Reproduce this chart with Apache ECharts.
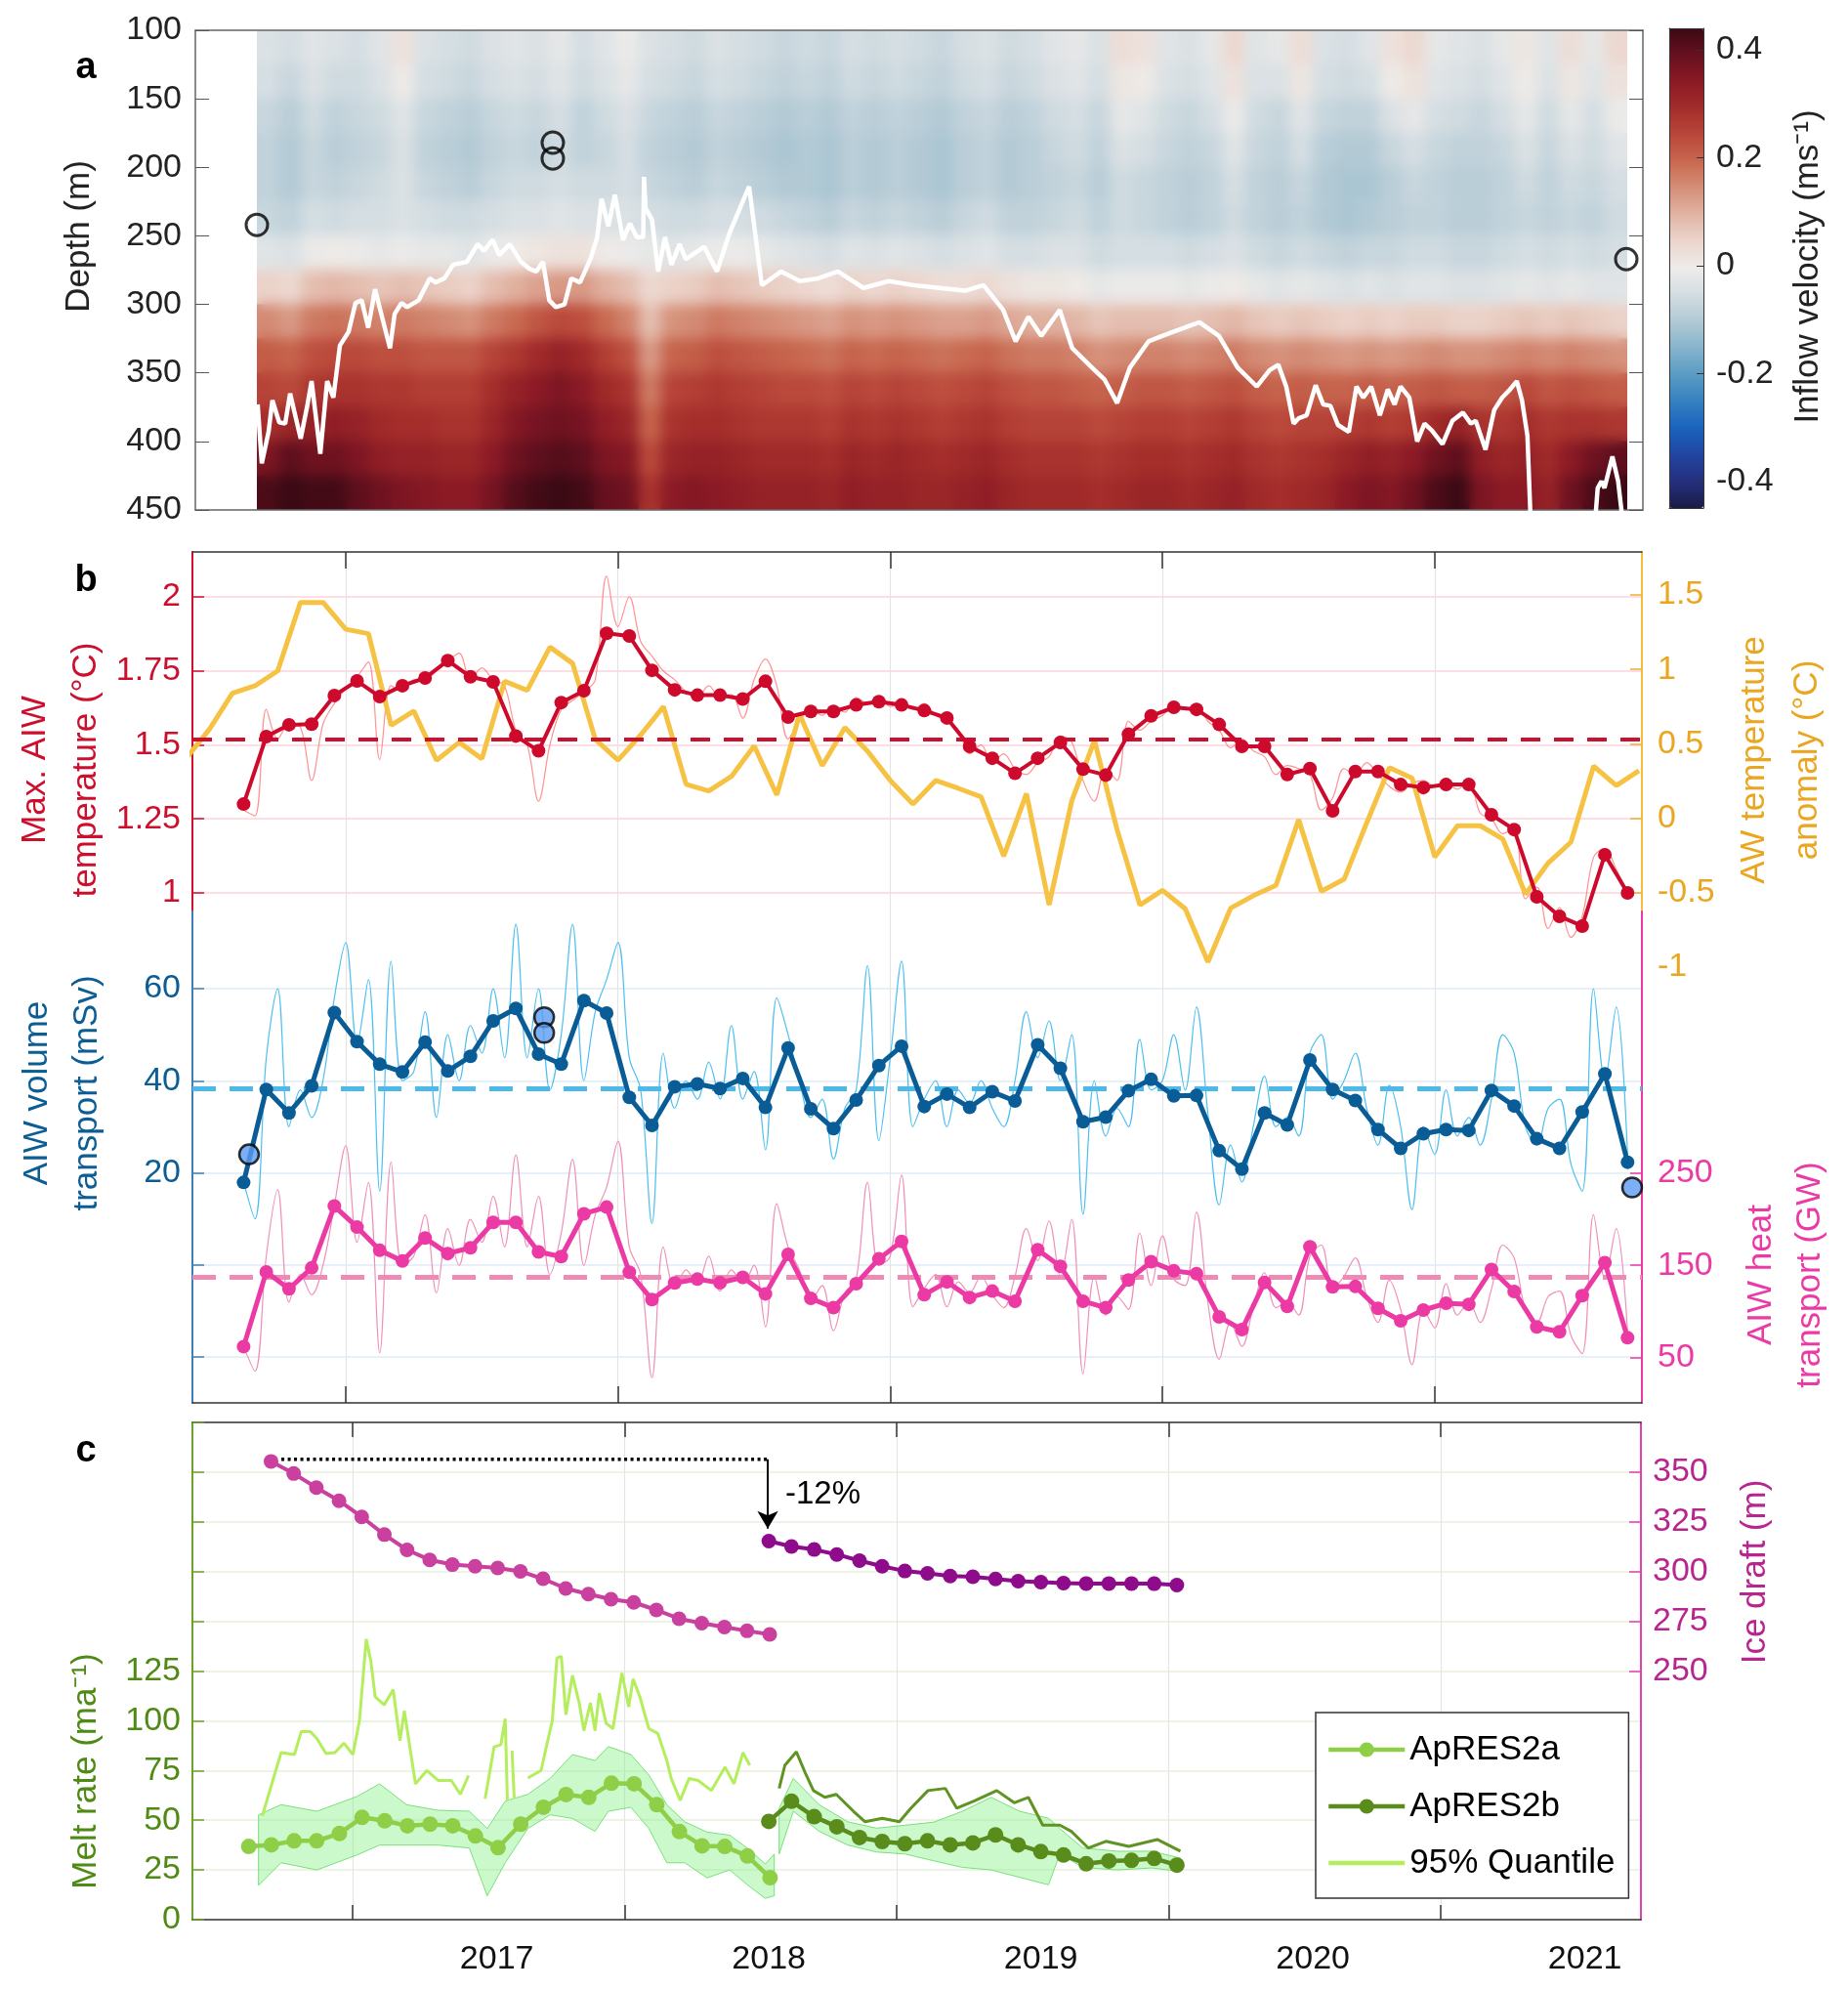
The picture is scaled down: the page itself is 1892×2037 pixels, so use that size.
<!DOCTYPE html>
<html>
<head>
<meta charset="utf-8">
<script src="https://cdn.jsdelivr.net/npm/echarts@6/dist/echarts.min.js"></script>
<style>
html, body { margin: 0; padding: 0; background: #fff; }
#page { position: relative; width: 1892px; height: 2037px; }
#main { position: absolute; left: 0; top: 0; width: 1892px; height: 2037px; }
.field { position: absolute; left: 263px; top: 31px; width: 1403px; height: 491px; }
#fieldClip { overflow: hidden; }
#fieldBlur { width: 1403px; height: 491px; filter: blur(7px); }
</style>
</head>
<body>
<div id="page">
  <div id="fieldSharp" class="field"></div>
  <div id="fieldClip" class="field"><div id="fieldBlur"></div></div>
  <div id="main"></div>
</div>
<script>
var chartDom = document.getElementById('main');
var myChart = echarts.init(chartDom);
var option;

var FONT = '"Liberation Sans", Arial, Helvetica, sans-serif';

// ---------- panel a : inflow velocity (cm/s), monthly columns Sep 2016 - Sep 2021, 25 m rows ----------
var vel100 = [-4,-5,-3,-4, -5,-3,2,-4, -5,-6,-4,-3, -4,-2,-5,-3, -1,-4,-5,-6, -4,-5,-6,-7, -6,-7,-5,-6, -5,-6,-7,-5, -4,-6,-5,-3, -2,-4,3,2, -3,-4,-2,4, -3,-2,3,-4, -5,-3,2,4, -2,-3,-4,-2, 1,-3,3,-2, 4];
var vel125 = [-5,-7,-4,-6, -6,-4,0,-5, -6,-7,-5,-4, -5,-3,-6,-4, -2,-5,-6,-7, -5,-6,-7,-8, -7,-8,-6,-7, -6,-7,-8,-6, -5,-7,-6,-4, -3,-5,1,0, -4,-5,-3,2, -4,-4,1,-5, -6,-5,0,2, -3,-4,-5,-3, 0,-4,1,-3, 2];
var vel150 = [-7,-9,-6,-8, -7,-6,-3,-7, -8,-9,-7,-6, -7,-5,-8,-6, -4,-7,-8,-9, -7,-8,-9,-10, -9,-10,-8,-9, -8,-9,-10,-8, -7,-9,-8,-6, -5,-7,-2,-3, -6,-7,-5,-1, -6,-7,-3,-7, -8,-8,-4,-2, -5,-6,-7,-5, -2,-6,-2,-5, -1];
var vel175 = [-8,-10,-7,-9, -8,-7,-4,-8, -9,-10,-8,-7, -8,-6,-8,-7, -5,-8,-9,-10, -8,-9,-10,-11, -10,-11,-9,-10, -9,-10,-11,-9, -8,-10,-9,-7, -6,-8,-4,-5, -7,-8,-7,-3, -7,-8,-5,-9, -10,-10,-7,-5, -7,-8,-8,-7, -4,-7,-4,-6, -3];
var vel200 = [-8,-10,-7,-8, -7,-6,-4,-7, -8,-9,-7,-6, -6,-5,-6,-6, -5,-7,-8,-9, -7,-8,-9,-10, -10,-11,-9,-10, -9,-10,-11,-9, -8,-10,-9,-8, -7,-9,-6,-7, -8,-9,-8,-5, -8,-9,-7,-10, -11,-11,-9,-7, -8,-9,-9,-8, -6,-8,-6,-7, -5];
var vel225 = [-7,-8,-5,-6, -5,-5,-4,-5, -6,-6,-5,-4, -4,-3,-4,-4, -4,-5,-6,-6, -5,-5,-6,-7, -8,-9,-7,-8, -7,-8,-9,-7, -6,-8,-8,-7, -6,-8,-6,-7, -8,-9,-8,-6, -8,-9,-8,-10, -11,-10,-9,-8, -8,-9,-9,-8, -7,-8,-7,-8, -6];
var vel250 = [-3,-4,-1,0, -1,-2,-1,-2, -2,-3,-1,0, 1,2,2,0, -1,-2,-3,-2, -1,-1,-2,-3, -4,-5,-3,-4, -3,-4,-5,-4, -3,-5,-5,-4, -4,-6,-5,-5, -5,-6,-5,-4, -6,-7,-6,-7, -8,-7,-7,-6, -6,-7,-7,-6, -5,-6,-5,-6, -5];
var vel275 = [5,4,8,9, 8,7,8,7, 6,5,8,10, 12,13,13,10, 8,4,5,6, 8,7,6,5, 4,3,5,4, 5,4,3,3, 4,2,1,1, 0,-2,-1,-1, -1,-2,-1,0, -2,-3,-2,-3, -4,-3,-4,-3, -3,-4,-4,-3, -2,-3,-2,-3, -3];
var vel300 = [15,13,17,18, 17,16,17,16, 15,14,17,19, 22,24,23,19, 16,8,14,15, 17,16,15,14, 13,12,14,13, 14,13,12,12, 13,11,10,10, 9,7,8,8, 8,7,8,9, 7,6,7,6, 5,6,5,6, 6,5,5,6, 7,6,7,6, 5];
var vel325 = [21,20,23,24, 24,23,23,22, 22,22,25,27, 30,32,30,26, 23,13,20,21, 23,22,21,20, 19,18,20,19, 20,19,18,19, 20,18,17,17, 16,14,15,16, 16,15,16,17, 15,14,15,14, 13,14,13,14, 15,14,14,15, 16,15,16,15, 14];
var vel350 = [25,24,27,28, 28,27,27,26, 26,26,29,32, 34,36,34,30, 28,17,25,26, 27,26,25,24, 24,23,25,24, 25,24,23,24, 25,23,22,22, 21,20,21,22, 22,21,22,23, 21,20,21,20, 20,21,20,21, 22,21,21,22, 24,22,23,22, 21];
var vel375 = [29,31,32,33, 32,30,29,29, 28,28,31,35, 37,38,37,33, 31,20,28,29, 29,28,27,27, 27,26,28,27, 28,27,26,27, 28,26,25,25, 25,24,25,26, 26,25,26,27, 25,24,25,25, 26,27,26,27, 30,32,28,27, 29,27,28,28, 27];
var vel400 = [36,40,38,38, 36,33,32,32, 31,31,34,38, 40,41,40,36, 35,24,31,32, 32,31,30,30, 30,29,31,30, 31,30,29,30, 31,29,28,28, 28,27,28,29, 29,28,29,30, 28,27,28,29, 31,33,32,34, 38,40,33,31, 32,30,34,38, 40];
var vel425 = [42,45,43,43, 40,38,36,35, 34,34,37,41, 43,44,43,39, 38,28,34,35, 34,33,32,32, 32,31,33,32, 32,31,31,32, 33,31,30,30, 30,29,30,31, 31,30,31,32, 30,29,30,31, 34,36,35,38, 42,44,36,34, 34,32,38,42, 44];
var velRows = [vel100, vel125, vel150, vel175, vel200, vel225, vel250, vel275, vel300, vel325, vel350, vel375, vel400, vel425];
var velDepths = ['100', '125', '150', '175', '200', '225', '250', '275', '300', '325', '350', '375', '400', '425'];

// upper boundary of the AIW layer (decimal year, depth m)
var aiwTop = [
  [2016.677,373],[2016.692,416],[2016.717,393],[2016.731,370],[2016.756,386],[2016.778,387],[2016.796,365],[2016.835,398],
  [2016.860,373],[2016.875,356],[2016.907,409],[2016.932,356],[2016.955,368],[2016.979,330],[2017.011,320],[2017.036,299],
  [2017.059,297],[2017.083,317],[2017.108,289],[2017.140,314],[2017.163,332],[2017.180,307],[2017.205,299],[2017.226,302],
  [2017.268,297],[2017.309,281],[2017.330,284],[2017.363,281],[2017.395,271],[2017.445,269],[2017.485,256],[2017.508,261],
  [2017.540,253],[2017.564,264],[2017.603,256],[2017.644,269],[2017.675,274],[2017.700,276],[2017.725,269],[2017.748,297],
  [2017.772,302],[2017.804,300],[2017.829,281],[2017.861,284],[2017.901,266],[2017.924,251],[2017.940,223],[2017.965,243],
  [2017.989,220],[2018.019,253],[2018.044,241],[2018.069,251],[2018.093,251],[2018.096,207],[2018.102,230],[2018.125,238],
  [2018.148,276],[2018.173,251],[2018.197,271],[2018.227,256],[2018.249,267],[2018.317,258],[2018.364,276],[2018.410,248],
  [2018.482,214],[2018.529,286],[2018.600,276],[2018.668,283],[2018.737,281],[2018.808,276],[2018.902,288],[2018.995,283],
  [2019.088,286],[2019.181,288],[2019.275,290],[2019.343,286],[2019.415,304],[2019.461,327],[2019.508,309],[2019.555,323],
  [2019.623,304],[2019.669,332],[2019.741,346],[2019.788,355],[2019.834,372],[2019.881,346],[2019.949,327],[2019.999,323],
  [2020.067,318],[2020.136,313],[2020.208,323],[2020.276,346],[2020.347,360],[2020.394,348],[2020.426,344],[2020.455,360],
  [2020.482,387],[2020.501,383],[2020.530,381],[2020.563,359],[2020.591,373],[2020.617,374],[2020.645,388],[2020.685,393],
  [2020.713,360],[2020.738,368],[2020.767,360],[2020.799,381],[2020.828,362],[2020.853,373],[2020.875,360],[2020.907,368],
  [2020.936,400],[2020.963,387],[2020.990,392],[2021.029,402],[2021.065,385],[2021.104,379],[2021.133,387],[2021.151,385],
  [2021.187,406],[2021.219,377],[2021.248,368],[2021.273,363],[2021.302,356],[2021.321,370],[2021.341,396],[2021.355,470],
  [2021.47,null],[2021.585,470],[2021.599,434],[2021.613,429],[2021.624,434],[2021.653,411],[2021.674,429],[2021.692,460]
];
var adcpMarks = [[2016.674,242],[2017.761,182],[2017.761,193.5],[2021.704,267]];

// ---------- panel b ----------
var meanStart = 2016.625;   // monthly means from mid Aug 2016
var rawStart = 2016.625;    // half-monthly record
var awStart = 2016.417;     // AW anomaly, monthly from Jun 2016
var maxTemp = [1.30,1.528,1.568,1.57,1.667,1.716,1.663,1.70,1.726,1.785,1.73,1.713,1.53,1.48,1.643,1.683,1.877,1.868,1.752,1.686,
  1.668,1.668,1.655,1.715,1.594,1.613,1.613,1.635,1.646,1.635,1.616,1.591,1.495,1.455,1.404,1.455,1.508,1.418,1.398,1.536,1.598,1.627,1.62,
  1.569,1.495,1.495,1.40,1.42,1.277,1.41,1.41,1.366,1.356,1.366,1.366,1.264,1.214,0.987,0.921,0.888,1.129,1.0];
var maxTempRaw = [1.28,1.26,1.62,1.52,1.57,1.56,1.38,1.57,1.64,1.69, 1.73,1.78,1.45,1.70,1.68,1.72,1.72,1.75,1.78,1.81,
  1.72,1.76,1.72,1.70,1.55,1.50,1.31,1.50,1.62,1.65, 1.68,1.72,2.07,1.90,2.00,1.85,1.80,1.75,1.72,1.68,
  1.66,1.70,1.66,1.67,1.59,1.72,1.79,1.70,1.52,1.58, 1.62,1.60,1.63,1.61,1.66,1.64,1.66,1.63,1.64,1.62,
  1.64,1.60,1.58,1.55,1.47,1.50,1.44,1.47,1.42,1.40, 1.44,1.46,1.53,1.51,1.38,1.31,1.42,1.38,1.58,1.55,
  1.58,1.60,1.63,1.62,1.64,1.58,1.55,1.49,1.52,1.48, 1.46,1.40,1.43,1.42,1.40,1.28,1.32,1.42,1.40,1.44,
  1.40,1.36,1.34,1.37,1.38,1.36,1.37,1.35,1.38,1.27, 1.25,1.20,1.22,0.98,1.02,0.88,0.95,0.85,0.92,1.12,
  1.15,1.08,1.00];
var maxTempMean = 1.517;
var awAnomaly = [0.41,0.60,0.84,0.89,0.99,1.45,1.45,
  1.27,1.24,0.625,0.72,0.39,0.51,0.40,0.92,0.86,1.15,1.04,0.53,
  0.39,0.56,0.75,0.228,0.184,0.282,0.486,0.157,0.698,0.354,0.61,0.45,
  0.254,0.096,0.254,0.201,0.144,-0.254,0.166,-0.582,0.118,0.523,-0.079,-0.582,
  -0.484,-0.608,-0.965,-0.604,-0.52,-0.45,-0.01,-0.49,-0.41,-0.03,0.34,0.27,
  -0.26,-0.05,-0.05,-0.14,-0.51,-0.30,-0.16,0.35,0.22,0.32];
var volTrans = [17.9,38.1,33.0,38.9,54.8,48.5,43.6,41.9,48.4,42.1,45.3,53.0,55.7,45.8,43.6,57.4,54.7,36.4,30.3,38.7,
  39.3,38.3,40.5,34.2,47.1,33.9,29.6,35.8,43.3,47.5,34.4,37.1,34.2,37.6,35.6,47.8,42.7,31.1,32.1,37.8,40.3,36.7,36.8,
  24.8,20.8,33.0,30.4,44.5,38.1,35.7,29.4,25.3,28.5,29.4,29.2,37.9,34.5,27.4,25.3,33.2,41.5,22.3];
var volTransRaw = [18,10,45,60,30,38,32,40,58,70, 48,62,16,66,40,42,55,32,50,40, 52,46,60,45,74,45,60,38,50,74,
  40,55,62,70,45,38,9,46,34,40, 36,44,36,52,36,42,25,58,50,40, 32,36,23,34,38,65,27,45,66,30,
  36,40,30,38,35,40,34,30,40,55, 45,53,40,50,11,40,28,34,30,49, 38,40,50,38,56,33,13,26,18,30,
  41,30,32,28,46,50,36,40,46,34, 26,39,30,12,30,24,38,28,32,26, 36,50,46,30,26,34,36,22,16,60, 40,56,24];
var volTransMean = 38.3;
var volMoorings = [[2016.645,24.0],[2017.729,53.8],[2017.729,50.4],[2021.725,16.8]];
var heatTrans = [61.7,142.9,124.5,147.2,214.4,191.5,166.3,154.6,179.6,162.8,169.1,196.6,196.6,164.6,159.5,206,213.3,142.5,112.7,130.9,
  135,131,137,119,162,114,104,130,157,176,118,132,115,122,111,167,149,111,104,134,154,144,141,
  94,80.1,131.5,105.3,170.2,126.6,127,103.2,89.7,101.4,108.7,107.6,145.4,121.6,83,77.7,117,152.8,71.3];
var heatTransRaw = [62,35,160,232,110,140,118,150,215,280, 175,240,55,262,150,160,205,120,190,150, 200,175,225,170,270,170,225,140,185,265,
  150,205,235,285,170,140,28,170,125,145, 130,160,122,145,130,150,83,217,170,145, 112,128,79,120,135,240,150,160,248,105,
  125,140,105,132,120,138,118,104,138,190, 155,198,138,200,32,138,96,116,102,185, 128,182,135,128,208,110,48,88,62,104,
  142,104,110,96,160,172,124,138,158,116, 88,134,102,42,102,82,130,96,110,88, 124,172,158,102,88,116,122,74,54,205, 136,190,78];
var heatTransMean = 137;

// ---------- panel c ----------
var melt2aStart = 2016.618, draft2aStart = 2016.70, res2bStart = 2018.53;
var melt2a = [36.8,37.6,39.6,39.6,43.3,51.4,49.7,47.2,48.0,47.2,42.1,36.2,48.0,56.5,62.9,61.5,68.6,68.3,57.8,44.3,37.1,36.8,32.0,21.1];
var draft2a = [355.4,349.3,342.2,335.6,327.5,318.6,310.9,305.9,303.5,302.7,301.8,300.1,296.4,291.5,288.7,286.1,284.5,280.7,276.3,274.1,272.1,270.2,268.4];
var melt2b = [49.4,59.5,51.8,46.7,41.3,39.3,38.2,39.6,37.6,38.6,42.6,37.6,34.2,32.5,28.1,29.5,29.8,30.8,27.4];
var draft2b = [315.3,312.6,311.1,308.6,305.5,302.7,300.3,299.1,297.8,297.4,296.3,295.2,294.7,294.2,294.0,294.0,294.0,293.9,293.2];
// [time, upper, lower] of the melt-rate uncertainty band
var band2a = [[2016.654,52.7,17.2],[2016.737,57.8,28.6],[2016.869,54.5,25],[2017.017,62,32.6],[2017.099,68.3,37.5],[2017.198,57.8,37.5],
  [2017.314,55,37.5],[2017.429,54.5,36],[2017.495,45.8,12],[2017.561,59.6,28.6],[2017.644,63,45.8],[2017.726,71,52.7],[2017.808,83,50.9],
  [2017.891,80,44.4],[2017.940,87,54.5],[2018.023,83,56.5],[2018.089,72.7,45.8],[2018.155,57.8,28.6],[2018.221,49.2,28.6],[2018.303,44,21],
  [2018.386,42.5,25],[2018.451,36,17.5],[2018.517,28,10.7],[2018.550,33,12]];
var band2b = [[2018.568,56,33],[2018.620,71,54.5],[2018.715,57.8,44.4],[2018.820,49.2,37.5],[2018.926,46,34],[2019.031,47.5,33],
  [2019.136,49,29.6],[2019.242,54.5,26.3],[2019.347,61.5,25],[2019.452,54.5,21.3],[2019.558,51,17.5],[2019.600,45.8,33],
  [2019.684,36,26.3],[2019.811,34.4,25],[2019.937,34.4,26],[2020.043,31,24.2]];
var q95a = [[2016.668,52.2],[2016.737,84],[2016.786,83],[2016.811,94.6],[2016.844,94.6],[2016.869,91],[2016.902,83.5],[2016.935,84],
  [2016.968,88.7],[2017.001,83],[2017.025,100],[2017.050,141],[2017.067,130],[2017.083,112],[2017.116,108],[2017.149,115.6],
  [2017.174,90],[2017.190,105],[2017.231,68.3],[2017.273,75],[2017.314,70],[2017.363,70],[2017.396,63],[2017.426,72.5],[2017.45,null],
  [2017.487,60.8],[2017.520,86.9],[2017.545,88],[2017.561,101],[2017.569,60],[2017.577,null],[2017.586,85],[2017.594,61],[2017.62,null],
  [2017.644,71.2],[2017.693,75],[2017.709,85],[2017.734,100],[2017.751,131.6],[2017.767,132.4],[2017.784,103],[2017.808,122.8],
  [2017.833,109],[2017.850,95],[2017.874,109],[2017.891,95],[2017.907,113.9],[2017.932,98.7],[2017.957,96],[2017.990,124],
  [2018.015,107],[2018.031,121],[2018.056,112],[2018.089,96],[2018.122,93.6],[2018.155,80],[2018.171,71],[2018.204,60],
  [2018.237,71],[2018.270,70],[2018.319,64.9],[2018.369,76.7],[2018.402,68.3],[2018.435,84],[2018.460,77.6]];
var q95b = [[2018.568,66],[2018.589,77.6],[2018.631,84.4],[2018.662,74.4],[2018.694,64.9],[2018.736,61.5],[2018.778,63],[2018.841,54.5],
  [2018.884,49.2],[2018.947,51],[2019.010,49.2],[2019.052,56],[2019.115,64.9],[2019.179,66],[2019.221,56],[2019.284,59.6],
  [2019.368,64.9],[2019.432,58.8],[2019.484,61.5],[2019.537,47.5],[2019.600,47.5],[2019.642,44.4],[2019.705,36],[2019.769,39.4],
  [2019.853,36.8],[2019.958,40.3],[2020.043,34.4]];
var draftDrop = { t0: 2016.738, t1: 2018.526, level: 356.4, arrowTo: 321.6 };

var yearTicks = [2017, 2018, 2019, 2020, 2021];
var yearLabels = [2017.53, 2018.53, 2019.53, 2020.53, 2021.53];
var velColors = ['#1a1c45','#252f7e','#2145a0','#1a63bd','#3580c0','#5b9bc4','#86b3cc','#b1c9d4','#d3dde2','#eeecea',
  '#ecd6cd','#e1b4a4','#d58f79','#c8684f','#b9473a','#a42d2a','#8a1a25','#67101f','#3a0a14'];

// ---------- helpers ----------
function series(start, step, vals) {
  return vals.map(function (v, i) { return [start + i * step, v]; });
}
var velMonths = [];
for (var m = 0; m < vel100.length; m++) velMonths.push('M' + m);
var heatData = [];
velRows.forEach(function (row, yi) {
  row.forEach(function (v, xi) { heatData.push([xi, yi, v / 100]); });
});

function lineOnly(color, width) {
  return { show: true, onZero: false, lineStyle: { color: color, width: width } };
}
function bandSeries(rows, xi, yi) {
  return {
    type: 'custom', xAxisIndex: xi, yAxisIndex: yi, z: 1, silent: true, clip: true,
    data: [[rows[0][0], rows[0][1]]],
    renderItem: function (params, api) {
      var pts = [];
      for (var i = 0; i < rows.length; i++) pts.push(api.coord([rows[i][0], rows[i][1]]));
      for (var j = rows.length - 1; j >= 0; j--) pts.push(api.coord([rows[j][0], rows[j][2]]));
      return { type: 'polygon', shape: { points: pts },
        style: { fill: 'rgba(120,238,120,0.38)', stroke: '#78e078', lineWidth: 1 } };
    }
  };
}
function vText(text, x, y, color, lh) {
  return { type: 'text', x: x, y: y, rotation: Math.PI / 2, z: 100,
    style: { text: text, fill: color, font: '35px ' + FONT, align: 'center', verticalAlign: 'middle', lineHeight: lh || 52 } };
}
function hText(text, x, y, font, align) {
  return { type: 'text', x: x, y: y, z: 100,
    style: { text: text, fill: '#000', font: font, align: align || 'center', verticalAlign: 'middle' } };
}
function lab(vals, color, margin) {
  return { show: true, customValues: vals, color: color, fontFamily: FONT, fontSize: 34, margin: margin };
}

// the velocity field is drawn twice underneath the main chart: once sharp, once softened
function fieldOption() {
  return {
    animation: false,
    grid: { left: 0, right: 0, top: 0, bottom: 0 },
    xAxis: { type: 'category', data: velMonths, show: false },
    yAxis: { type: 'category', data: velDepths, inverse: true, show: false },
    visualMap: { show: false, type: 'continuous', dimension: 2, min: -0.449, max: 0.44, inRange: { color: velColors } },
    series: [{ type: 'heatmap', data: heatData, silent: true }]
  };
}
echarts.init(document.getElementById('fieldSharp')).setOption(fieldOption());
echarts.init(document.getElementById('fieldBlur')).setOption(fieldOption());

option = {
  animation: false,
  textStyle: { fontFamily: FONT },
  grid: [
    { left: 200, width: 1482, top: 31, height: 491 },            // 0 panel a
    { left: 263, width: 1403, top: 31, height: 491 },            // 1 panel a field
    { left: 1709, width: 35, top: 29, height: 491 },             // 2 colorbar
    { left: 197, width: 1484, top: 565, height: 871 },           // 3 panel b
    { left: 197, width: 1484, top: 565, height: 368 },           // 4 panel b temperature spine
    { left: 197, width: 1484, top: 933, height: 503 },           // 5 panel b transport spine
    { left: 197, width: 1483, top: 1456, height: 509 }           // 6 panel c
  ],
  visualMap: {
    type: 'continuous', seriesIndex: 0, dimension: 2, min: -0.449, max: 0.44,
    left: 1709, top: 29, itemWidth: 35, itemHeight: 491, padding: 0,
    calculable: false, hoverLink: false, inRange: { color: velColors }
  },
  xAxis: [
    { gridIndex: 0, type: 'value', min: 2016.448, max: 2021.765, position: 'bottom', axisLine: lineOnly('#666', 1.5),
      axisTick: { show: false }, axisLabel: { show: false }, splitLine: { show: false } },
    { gridIndex: 0, type: 'value', min: 2016.448, max: 2021.765, position: 'top', axisLine: lineOnly('#666', 1.5),
      axisTick: { show: false }, axisLabel: { show: false }, splitLine: { show: false } },
    { gridIndex: 1, type: 'category', data: velMonths, show: false },
    { gridIndex: 2, type: 'value', min: 0, max: 1, position: 'bottom', z: 10, axisLine: lineOnly('#333', 1),
      axisTick: { show: false }, axisLabel: { show: false }, splitLine: { show: false } },
    { gridIndex: 2, type: 'value', min: 0, max: 1, position: 'top', z: 10, axisLine: lineOnly('#333', 1),
      axisTick: { show: false }, axisLabel: { show: false }, splitLine: { show: false } },
    { gridIndex: 3, type: 'value', min: 2016.437, max: 2021.761, position: 'bottom', axisLine: lineOnly('#333', 1.5),
      axisTick: { show: true, inside: true, length: 17, customValues: yearTicks, lineStyle: { color: '#333', width: 1.5 } },
      axisLabel: { show: false }, splitLine: { show: true, lineStyle: { color: '#e4e4e4', width: 1.2 } } },
    { gridIndex: 3, type: 'value', min: 2016.437, max: 2021.761, position: 'top', axisLine: lineOnly('#333', 1.5),
      axisTick: { show: true, inside: true, length: 17, customValues: yearTicks, lineStyle: { color: '#333', width: 1.5 } },
      axisLabel: { show: false }, splitLine: { show: false } },
    { gridIndex: 4, type: 'value', min: 0, max: 1, show: false },
    { gridIndex: 5, type: 'value', min: 0, max: 1, show: false },
    { gridIndex: 6, type: 'value', min: 2016.411, max: 2021.736, position: 'bottom', axisLine: lineOnly('#333', 1.5),
      axisTick: { show: true, inside: true, length: 15, customValues: yearTicks, lineStyle: { color: '#333', width: 1.5 } },
      axisLabel: { show: true, customValues: yearLabels, color: '#111', fontFamily: FONT, fontSize: 34, margin: 24,
        formatter: function (v) { return String(Math.floor(v)); } },
      splitLine: { show: true, lineStyle: { color: '#e4e4e4', width: 1.2 } } },
    { gridIndex: 6, type: 'value', min: 2016.411, max: 2021.736, position: 'top', axisLine: lineOnly('#333', 1.5),
      axisTick: { show: true, inside: true, length: 15, customValues: yearTicks, lineStyle: { color: '#333', width: 1.5 } },
      axisLabel: { show: false }, splitLine: { show: false } }
  ],
  yAxis: [
    { gridIndex: 0, type: 'value', min: 100, max: 450, interval: 50, inverse: true, position: 'left',
      axisLine: lineOnly('#666', 1.5), axisTick: { inside: true, length: 14, lineStyle: { color: '#555' } },
      axisLabel: { color: '#222', fontFamily: FONT, fontSize: 34, margin: 14 }, splitLine: { show: false } },
    { gridIndex: 0, type: 'value', min: 100, max: 450, interval: 50, inverse: true, position: 'right',
      axisLine: lineOnly('#666', 1.5), axisTick: { inside: true, length: 14, lineStyle: { color: '#555' } },
      axisLabel: { show: false }, splitLine: { show: false } },
    { gridIndex: 1, type: 'category', data: velDepths, inverse: true, show: false },
    { gridIndex: 2, type: 'value', min: -0.449, max: 0.44, position: 'right', z: 10, axisLine: lineOnly('#333', 1),
      axisTick: { show: true, inside: true, length: 7, customValues: [-0.4, -0.2, 0, 0.2, 0.4], lineStyle: { color: '#333' } },
      axisLabel: lab([-0.4, -0.2, 0, 0.2, 0.4], '#222', 13), splitLine: { show: false } },
    { gridIndex: 2, type: 'value', min: -0.449, max: 0.44, position: 'left', z: 10, axisLine: lineOnly('#333', 1),
      axisTick: { show: false }, axisLabel: { show: false }, splitLine: { show: false } },
    // 5 max AIW temperature
    { gridIndex: 3, type: 'value', min: -0.7228, max: 2.1518, position: 'left', axisLine: { show: false },
      axisTick: { show: true, inside: true, length: 12, customValues: [1, 1.25, 1.5, 1.75, 2], lineStyle: { color: '#d0102e', width: 1.5 } },
      axisLabel: lab([1, 1.25, 1.5, 1.75, 2], '#cc0f2d', 12),
      splitLine: { show: true, lineStyle: { color: '#fbd3da', width: 1.5 } } },
    // 6 AW anomaly
    { gridIndex: 3, type: 'value', min: -3.927, max: 1.789, position: 'right', axisLine: { show: false },
      axisTick: { show: true, inside: true, length: 12, customValues: [-0.5, 0, 0.5, 1, 1.5], lineStyle: { color: '#eeb030', width: 1.5 } },
      axisLabel: lab([-1, -0.5, 0, 0.5, 1, 1.5], '#eaa620', 16), splitLine: { show: false } },
    // 7 volume transport
    { gridIndex: 3, type: 'value', min: -30.0, max: 154.9, position: 'left', axisLine: { show: false },
      axisTick: { show: true, inside: true, length: 12, customValues: [-20, 0, 20, 40, 60], lineStyle: { color: '#3d80b8', width: 1.5 } },
      axisLabel: lab([20, 40, 60], '#0b5d94', 12),
      splitLine: { show: true, lineStyle: { color: '#e0ebf5', width: 1.5 } } },
    // 8 heat transport
    { gridIndex: 3, type: 'value', min: 0.53, max: 925.2, position: 'right', axisLine: { show: false },
      axisTick: { show: true, inside: true, length: 12, customValues: [50, 150, 250], lineStyle: { color: '#ec3aa5', width: 1.5 } },
      axisLabel: lab([50, 150, 250], '#ec3aa5', 16), splitLine: { show: false } },
    { gridIndex: 4, type: 'value', min: 0, max: 1, position: 'left', axisLine: lineOnly('#d0102e', 2),
      axisTick: { show: false }, axisLabel: { show: false }, splitLine: { show: false } },
    { gridIndex: 4, type: 'value', min: 0, max: 1, position: 'right', axisLine: lineOnly('#f2bc3c', 2),
      axisTick: { show: false }, axisLabel: { show: false }, splitLine: { show: false } },
    { gridIndex: 5, type: 'value', min: 0, max: 1, position: 'left', axisLine: lineOnly('#3d80b8', 2),
      axisTick: { show: false }, axisLabel: { show: false }, splitLine: { show: false } },
    { gridIndex: 5, type: 'value', min: 0, max: 1, position: 'right', axisLine: lineOnly('#ec3aa5', 2),
      axisTick: { show: false }, axisLabel: { show: false }, splitLine: { show: false } },
    // 13 melt rate
    { gridIndex: 6, type: 'value', min: 0, max: 250, interval: 25, position: 'left', axisLine: lineOnly('#6aa32a', 2),
      axisTick: { show: true, inside: true, length: 12, lineStyle: { color: '#6aa32a', width: 1.5 } },
      axisLabel: lab([0, 25, 50, 75, 100, 125], '#4f8a14', 12),
      splitLine: { show: true, lineStyle: { color: '#e7efdc', width: 1.5 } } },
    // 14 ice draft
    { gridIndex: 6, type: 'value', min: 125, max: 375, interval: 25, position: 'right', axisLine: lineOnly('#e040b0', 2),
      axisTick: { show: true, inside: true, length: 12, customValues: [250, 275, 300, 325, 350], lineStyle: { color: '#e040b0', width: 1.5 } },
      axisLabel: lab([250, 275, 300, 325, 350], '#b8258f', 12), splitLine: { show: false } }
  ],
  legend: {
    data: ['ApRES2a', 'ApRES2b', { name: '95% Quantile', itemStyle: { opacity: 0 } }],
    orient: 'vertical', left: 1347, top: 1753, selectedMode: false,
    padding: [18, 14, 16, 11], itemGap: 18, itemWidth: 78, itemHeight: 19,
    lineStyle: { width: 4.5 },
    backgroundColor: '#fff', borderColor: '#333', borderWidth: 1.5, borderRadius: 0,
    textStyle: { color: '#000', fontFamily: FONT, fontSize: 35, lineHeight: 40 }
  },
  series: [
    // ----- panel a (field kept invisible here; it only drives the colour bar) -----
    { type: 'heatmap', xAxisIndex: 2, yAxisIndex: 2, data: heatData, silent: true, z: 1, itemStyle: { opacity: 0 } },
    { type: 'line', xAxisIndex: 0, yAxisIndex: 0, data: aiwTop, symbol: 'none', z: 3,
      lineStyle: { color: '#fff', width: 4.5 } },
    { type: 'scatter', xAxisIndex: 0, yAxisIndex: 0, data: adcpMarks, symbolSize: 22, z: 4,
      itemStyle: { color: 'rgba(255,255,255,0)', borderColor: '#000', borderWidth: 3 } },
    // ----- panel b -----
    { type: 'line', xAxisIndex: 5, yAxisIndex: 5, data: series(rawStart, 1 / 24, maxTempRaw), symbol: 'none', z: 2, smooth: 0.35,
      lineStyle: { color: 'rgba(255,110,110,0.75)', width: 1.2 } },
    { type: 'line', xAxisIndex: 5, yAxisIndex: 6, data: series(awStart, 1 / 12, awAnomaly), symbol: 'none', z: 3,
      lineStyle: { color: '#f6c243', width: 5 } },
    { type: 'line', xAxisIndex: 5, yAxisIndex: 5, data: series(meanStart, 1 / 12, maxTemp), z: 5,
      symbol: 'circle', symbolSize: 14, itemStyle: { color: '#cd0a2c' }, lineStyle: { color: '#cd0a2c', width: 4 },
      markLine: { silent: true, symbol: 'none', label: { show: false }, data: [{ yAxis: maxTempMean }],
        lineStyle: { color: '#cc1030', width: 4, type: [20, 14] } } },
    { type: 'line', xAxisIndex: 5, yAxisIndex: 7, data: series(rawStart, 1 / 24, volTransRaw), symbol: 'none', z: 2, smooth: 0.35,
      lineStyle: { color: '#4cbff0', width: 1.2 } },
    { type: 'line', xAxisIndex: 5, yAxisIndex: 7, data: series(meanStart, 1 / 12, volTrans), z: 5,
      symbol: 'circle', symbolSize: 14, itemStyle: { color: '#0a5c96' }, lineStyle: { color: '#0a5c96', width: 5 },
      markLine: { silent: true, symbol: 'none', label: { show: false }, data: [{ yAxis: volTransMean }],
        lineStyle: { color: '#4cb9ea', width: 5, type: [24, 14] } } },
    { type: 'scatter', xAxisIndex: 5, yAxisIndex: 7, data: volMoorings, symbolSize: 20, z: 6,
      itemStyle: { color: '#5b9bf0', borderColor: '#000', borderWidth: 2.5 } },
    { type: 'line', xAxisIndex: 5, yAxisIndex: 8, data: series(rawStart, 1 / 24, heatTransRaw), symbol: 'none', z: 2, smooth: 0.35,
      lineStyle: { color: '#f090ba', width: 1.2 } },
    { type: 'line', xAxisIndex: 5, yAxisIndex: 8, data: series(meanStart, 1 / 12, heatTrans), z: 5,
      symbol: 'circle', symbolSize: 14, itemStyle: { color: '#ec3aa5' }, lineStyle: { color: '#ec3aa5', width: 5 },
      markLine: { silent: true, symbol: 'none', label: { show: false }, data: [{ yAxis: heatTransMean }],
        lineStyle: { color: '#ee8ab5', width: 5, type: [24, 14] } } },
    // ----- panel c -----
    bandSeries(band2a, 9, 13),
    bandSeries(band2b, 9, 13),
    { name: '95% Quantile', type: 'line', xAxisIndex: 9, yAxisIndex: 13, data: q95a, symbol: 'none', z: 3,
      lineStyle: { color: '#b4ee5c', width: 3 }, itemStyle: { color: '#b4ee5c' } },
    { name: 'q95b', type: 'line', xAxisIndex: 9, yAxisIndex: 13, data: q95b, symbol: 'none', z: 3,
      lineStyle: { color: '#5f9422', width: 3 } },
    { name: 'ApRES2a', type: 'line', xAxisIndex: 9, yAxisIndex: 13, data: series(melt2aStart, 1 / 12, melt2a), z: 5,
      symbol: 'circle', symbolSize: 16, itemStyle: { color: '#8fcf48' }, lineStyle: { color: '#8fcf48', width: 4.5 } },
    { name: 'ApRES2b', type: 'line', xAxisIndex: 9, yAxisIndex: 13, data: series(res2bStart, 1 / 12, melt2b), z: 5,
      symbol: 'circle', symbolSize: 16, itemStyle: { color: '#5a8c1c' }, lineStyle: { color: '#5a8c1c', width: 4.5 } },
    { type: 'line', xAxisIndex: 9, yAxisIndex: 14, data: series(draft2aStart, 1 / 12, draft2a), z: 5,
      symbol: 'circle', symbolSize: 15, itemStyle: { color: '#c9409f' }, lineStyle: { color: '#c9409f', width: 4 } },
    { type: 'line', xAxisIndex: 9, yAxisIndex: 14, data: series(res2bStart, 1 / 12, draft2b), z: 5,
      symbol: 'circle', symbolSize: 15, itemStyle: { color: '#8e0b8c' }, lineStyle: { color: '#8e0b8c', width: 4 } },
    { type: 'line', xAxisIndex: 9, yAxisIndex: 14, z: 4, symbol: 'none',
      data: [[draftDrop.t0, draftDrop.level], [draftDrop.t1, draftDrop.level]],
      lineStyle: { color: '#000', width: 3.5, type: [3, 3.5] },
      markLine: { silent: true, symbol: ['none', 'arrow'], symbolSize: [16, 18], label: { show: false },
        lineStyle: { color: '#000', width: 2, type: 'solid' },
        data: [[{ coord: [draftDrop.t1, draftDrop.level] }, { coord: [draftDrop.t1, draftDrop.arrowTo] }]] } }
  ],
  graphic: [
    hText('a', 88, 70, 'bold 38px ' + FONT),
    hText('b', 88, 595, 'bold 38px ' + FONT),
    hText('c', 88, 1486, 'bold 38px ' + FONT),
    hText('-12%', 804, 1530, '33px ' + FONT, 'left'),
    vText('Depth (m)', 81, 242, '#222'),
    vText('Inflow velocity (ms\u207B\u00B9)', 1851, 273, '#222'),
    vText('Max. AIW\ntemperature (\u00B0C)', 62, 788, '#cc0f2d', 52),
    vText('AIW volume\ntransport (mSv)', 64, 1119, '#0b5d94', 51),
    vText('AW temperature\nanomaly (\u00B0C)', 1823, 778, '#eaa620', 54),
    vText('AIW heat\ntransport (GW)', 1828, 1305, '#ec3aa5', 50),
    vText('Melt rate (ma\u207B\u00B9)', 88, 1813, '#4f8a14'),
    vText('Ice draft (m)', 1797, 1609, '#b8258f')
  ]
};

option && myChart.setOption(option);
</script>
</body>
</html>
